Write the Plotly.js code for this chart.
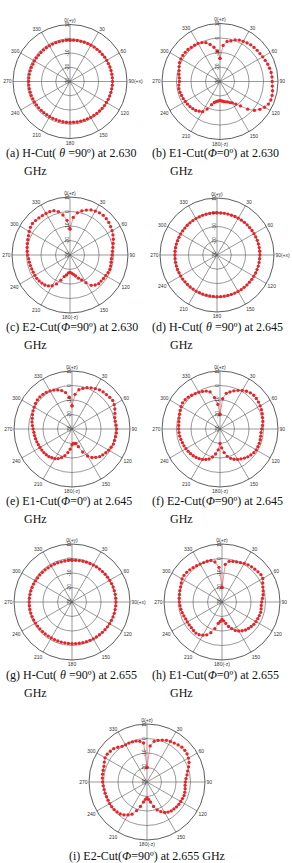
<!DOCTYPE html>
<html><head><meta charset="utf-8">
<script src="https://cdn.plot.ly/plotly-3.0.1.min.js"></script>
<style>html,body{margin:0;padding:0;background:#fff}#chart{width:292px;height:863px}</style>
</head><body><div id="chart"></div>
<script>
// angles (deg), 5-degree steps
const theta = [0,5,10,15,20,25, 30,35,40,45,50,55, 60,65,70,75,80,85, 90,95,100,105,110,115,
  120,125,130,135,140,145, 150,155,160,165,170,175, 180,185,190,195,200,205, 210,215,220,225,230,235,
  240,245,250,255,260,265, 270,275,280,285,290,295, 300,305,310,315,320,325, 330,335,340,345,350,355];

const hcut_2630 = [-1.0,-0.9,-0.8,-0.8,-0.7,-0.6, -0.6,-0.5,-0.5,-0.4,-0.4,-0.3, -0.3,-0.3,-0.2,-0.2,-0.2,-0.2,
  -0.2,-0.2,-0.3,-0.3,-0.4,-0.4, -0.5,-0.5,-0.6,-0.7,-0.8,-0.9, -1.0,-1.1,-1.1,-1.2,-1.2,-1.3,
  -1.3,-1.3,-1.4,-1.4,-1.5,-1.5, -1.5,-1.5,-1.4,-1.4,-1.3,-1.3, -1.2,-1.2,-1.1,-1.1,-1.0,-1.0,
  -1.0,-1.0,-1.0,-1.1,-1.1,-1.2, -1.2,-1.2,-1.2,-1.2,-1.1,-1.1, -1.1,-1.0,-1.0,-1.0,-1.0,-1.0];
const e1_2630 = [-14,-5,-2,-1,0.5,1.5, 2,2.5,3,3.2,3.5,3.6, 4,4.4,5,5.4,5.8,6, 6,6.2,6.8,7.2,7.3,6.8,
  5.5,3.5,1,-3,-8,-11, -13,-14,-15,-15.5,-16,-16.5, -17,-16.5,-16,-15,-13,-9, -6,-5,-4,-3.5,-3,-2.7,
  -2.4,-2,-1.8,-1.4,-1.2,-1.5, -2,-1.8,-1.2,-0.8,0,0.8, 1.2,1.3,1.3,1.2,0.8,0.5, 0.3,-0.4,-1.5,-3.6,-6,-9];
const e2_2630 = [-12,-4,-0.5,1.5,3,4.3, 5,5.5,5.7,5.4,4.9,4.2, 3.5,2.7,1.8,0.8,0,-0.6, -1,-1.3,-1.2,-1,-0.8,-1.1,
  -1.6,-1.8,-2,-2,-3,-4.5, -8,-11,-13,-15,-16.5,-17.5, -18,-17.6,-16,-14.5,-11.5,-8, -5.5,-4,-3,-2.6,-2.2,-2,
  -2,-2,-1.9,-1.7,-1.5,-1.3, -0.8,-0.4,0,0.5,1,1.6, 2.5,3.3,3.8,3.6,3.4,3.2, 3.1,3,2.5,1,-2,-6];
const hcut_2645 = [-0.4,-0.4,-0.3,-0.3,-0.3,-0.2, -0.2,-0.2,-0.1,-0.1,-0.1,0.0, 0.0,0.0,0.1,0.1,0.1,0.1,
  0.1,0.0,0.0,0.0,-0.1,-0.1, -0.2,-0.2,-0.3,-0.3,-0.4,-0.4, -0.5,-0.5,-0.6,-0.6,-0.7,-0.7,
  -0.7,-0.8,-0.8,-0.8,-0.8,-0.8, -0.8,-0.8,-0.7,-0.7,-0.7,-0.6, -0.6,-0.6,-0.5,-0.5,-0.5,-0.5,
  -0.5,-0.5,-0.5,-0.5,-0.6,-0.6, -0.6,-0.6,-0.6,-0.5,-0.5,-0.5, -0.5,-0.5,-0.4,-0.4,-0.4,-0.4];
const e1_2645 = [-14,-6,-2.5,-1,0.3,1.3, 2.2,3,3.4,3.6,4,4.3, 3.6,2.6,1.5,0.5,0.3,0.5, 0.8,0.7,0.5,0.4,0.4,-0.2,
  -0.8,-1.5,-2.3,-3,-4.5,-6, -8.5,-12.5,-17,-19.5,-20,-20, -19,-16,-13.5,-11,-9,-7.5, -6.4,-5.8,-5.2,-4.9,-4.7,-4.6,
  -4.5,-4.4,-4.2,-4,-3.8,-3.6, -3.2,-2.6,-2,-1.6,-1,-0.4, 0.1,0.7,1.2,1.3,1.2,0.9, 0.3,-0.4,-1.3,-2.6,-4.5,-8];
const e2_2645 = [-20,-9,-5,-3.5,-2,-0.6, 0.8,1.8,2.6,2.9,2.7,2.4, 2,1.5,1,0.4,0,-0.6, -1.2,-1.6,-1.5,-1.3,-1.2,-1.2,
  -1.2,-1.5,-2.2,-2.9,-3.8,-4.8, -5.8,-7,-8.5,-10.5,-13.5,-17, -20,-15.6,-12.5,-10,-8,-6.8, -5.8,-5,-4.4,-3.9,-3.5,-3.2,
  -2.9,-2.6,-2.4,-2.1,-1.8,-1.6, -1.5,-1.4,-1.2,-0.8,-0.3,0.3, 1,1.5,1.4,1,0.4,-0.2, -0.8,-1.4,-2.2,-3.5,-8,-13];
const hcut_2655 = [-1.2,-1.1,-1.0,-0.9,-0.8,-0.7, -0.6,-0.5,-0.4,-0.3,-0.2,-0.1, 0.0,0.1,0.2,0.2,0.3,0.3,
  0.3,0.3,0.2,0.2,0.1,0.0, -0.1,-0.2,-0.3,-0.4,-0.5,-0.6, -0.7,-0.8,-0.9,-1.0,-1.1,-1.2,
  -1.3,-1.3,-1.4,-1.4,-1.4,-1.4, -1.4,-1.3,-1.3,-1.2,-1.1,-1.0, -0.9,-0.8,-0.7,-0.6,-0.5,-0.5,
  -0.5,-0.5,-0.6,-0.6,-0.7,-0.8, -0.9,-1.0,-1.0,-1.1,-1.1,-1.2, -1.2,-1.2,-1.2,-1.3,-1.3,-1.2];
const e1_2655 = [-20,-4,-1.5,-1,-0.6,0, 0.8,1.3,1.7,2,2.4,2.8, 2.4,1,0,-0.6,-1.2,-2, -2.6,-2.8,-2.6,-2.4,-2.6,-2.8,
  -3,-3.2,-3.7,-4.2,-4.8,-5.8, -7,-8.4,-10.5,-12.5,-15,-17, -18,-16.5,-15,-11,-7.5,-5, -3.6,-2.5,-2,-2.2,-2.4,-2.4,
  -2.4,-2.4,-2,-1.6,-1.2,-0.9, -0.6,-0.4,-0.2,0.1,0.4,1, 1.8,2,1.8,1.4,1,0.5, 0.2,0,-0.1,-0.3,-2,-6];
const e2_2655 = [-20,-5,-1.5,-0.3,0.8,1.7, 2.3,2.8,3.4,4,4,3.7, 3,2,0.5,-1,-2,-3, -3.5,-3.6,-3.3,-3,-2.8,-3,
  -3.1,-3.2,-3.4,-3.7,-4,-4.7, -5.7,-7.5,-9.5,-12.5,-16,-18, -19,-18,-16,-12.5,-9,-5.5, -3.8,-2.3,-1.3,-0.8,-0.4,-0.3,
  -0.3,-0.4,-0.3,-0.1,0,0.3, 0.6,0.9,1.1,1.3,1.6,2.5, 3.4,3.5,3,2.5,1.3,0, -0.4,-0.4,-0.5,-0.8,-1.5,-3];

const angTickVals = [0,30,60,90,120,150,180,210,240,270,300,330];
const hAngLabels = ["0(+y)","30","60","90(+x)","120","150","180","210","240","270","300","330"];
const eAngLabels = ["0(+z)","30","60","90","120","150","180(-z)","210","240","270","300","330"];
const radTickVals = [-30,-20,-10,0,10];
const radTickText = ["-30","-20","-10","0","10"];

const S = '\u00a0';
const captions = [
  "(a)"+S+"H-Cut("+S+"<i>θ</i>"+S+"=90º)"+S+"at"+S+"2.630",
  "(b)"+S+"E1-Cut(<i>Φ</i>=0º)"+S+"at"+S+"2.630",
  "(c)"+S+"E2-Cut(<i>Φ</i>=90º)"+S+"at"+S+"2.630",
  "(d)"+S+"H-Cut("+S+"<i>θ</i>"+S+"=90º)"+S+"at"+S+"2.645",
  "(e)"+S+"E1-Cut(<i>Φ</i>=0º)"+S+"at"+S+"2.645",
  "(f)"+S+"E2-Cut(<i>Φ</i>=90º)"+S+"at"+S+"2.645",
  "(g)"+S+"H-Cut("+S+"<i>θ</i>"+S+"=90º)"+S+"at"+S+"2.655",
  "(h)"+S+"E1-Cut(<i>Φ</i>=0º)"+S+"at"+S+"2.655",
  "(i)"+S+"E2-Cut(<i>Φ</i>=90º)"+S+"at"+S+"2.655"+S+"GHz"
];

const W = 292, H = 863;
const panels = [
  {r: hcut_2630, lab: hAngLabels, cx: 70,  cy: 81.5, R: 57, capX: 4,   capY: 153, ghz: 171},
  {r: e1_2630,   lab: eAngLabels, cx: 220, cy: 81.5, R: 58, capX: 150, capY: 153, ghz: 171},
  {r: e2_2630,   lab: eAngLabels, cx: 70,  cy: 255,  R: 58, capX: 4,   capY: 327, ghz: 345},
  {r: hcut_2645, lab: hAngLabels, cx: 217, cy: 255,  R: 57, capX: 150, capY: 327, ghz: 345},
  {r: e1_2645,   lab: eAngLabels, cx: 72,  cy: 429,  R: 58, capX: 4,   capY: 501, ghz: 519},
  {r: e2_2645,   lab: eAngLabels, cx: 220, cy: 429,  R: 58, capX: 150, capY: 501, ghz: 519},
  {r: hcut_2655, lab: hAngLabels, cx: 72,  cy: 602,  R: 58, capX: 4,   capY: 675, ghz: 693},
  {r: e1_2655,   lab: eAngLabels, cx: 222, cy: 602,  R: 58, capX: 150, capY: 675, ghz: 693},
  {r: e2_2655,   lab: eAngLabels, cx: 147, cy: 782,  R: 58, capX: null, capY: 856, ghz: null}
];

const traces = [];
const layout = {
  width: W, height: H, margin: {l:0, r:0, t:0, b:0},
  paper_bgcolor: '#fff', showlegend: false, annotations: []
};
const capFont = {family: 'Liberation Serif, Times New Roman, serif', size: 12, color: '#111'};

panels.forEach((p, i) => {
  const key = i === 0 ? 'polar' : 'polar' + (i + 1);
  traces.push({
    type: 'scatterpolar', subplot: key,
    theta: theta.concat([theta[0]]), r: p.r.concat([p.r[0]]),
    mode: 'lines+markers',
    line: {color: '#e3262b', width: 0.5},
    marker: {color: '#e3262b', size: 3.3},
    hoverinfo: 'skip'
  });
  layout[key] = {
    domain: {x: [(p.cx - p.R) / W, (p.cx + p.R) / W], y: [1 - (p.cy + p.R) / H, 1 - (p.cy - p.R) / H]},
    bgcolor: '#fff',
    angularaxis: {
      rotation: 90, direction: 'clockwise', tickmode: 'array',
      tickvals: angTickVals, ticktext: p.lab, ticks: '',
      showgrid: true, gridcolor: '#555', gridwidth: 0.6,
      showline: true, linecolor: '#333', linewidth: 0.8,
      tickfont: {size: 5, color: '#333', family: 'Arial, Liberation Sans, sans-serif'}
    },
    radialaxis: {
      range: [-30, 10], tickmode: 'array', tickvals: radTickVals, ticktext: radTickText,
      angle: 90, tickangle: 0, side: 'counterclockwise', ticks: '',
      showline: false, showgrid: true, gridcolor: '#555', gridwidth: 0.6,
      tickfont: {size: 5, color: '#333', family: 'Arial, Liberation Sans, sans-serif'}
    }
  };
  if (p.capX !== null) {
    layout.annotations.push({text: captions[i], xref: 'paper', yref: 'paper',
      x: p.capX / W, y: 1 - p.capY / H, xanchor: 'left', yanchor: 'middle', showarrow: false, font: capFont});
    layout.annotations.push({text: 'GHz', xref: 'paper', yref: 'paper',
      x: (p.capX + 18) / W, y: 1 - p.ghz / H, xanchor: 'left', yanchor: 'middle', showarrow: false, font: capFont});
  } else {
    layout.annotations.push({text: captions[i], xref: 'paper', yref: 'paper',
      x: p.cx / W, y: 1 - p.capY / H, xanchor: 'center', yanchor: 'middle', showarrow: false, font: capFont});
  }
});

Plotly.newPlot('chart', traces, layout, {staticPlot: true, displayModeBar: false});
</script>
</body></html>
